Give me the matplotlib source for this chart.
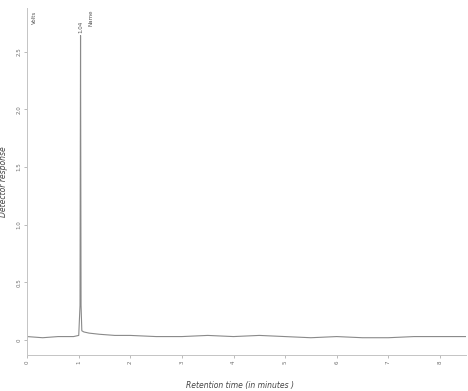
import numpy as np
import matplotlib.pyplot as plt

# retention time (min) and detector response
time_min = [0.0, 0.3, 0.6, 0.9, 1.00, 1.025, 1.035, 1.045, 1.06, 1.10, 1.2, 1.4,
            1.7, 2.0, 2.5, 3.0, 3.5, 4.0, 4.5, 5.0, 5.5, 6.0, 6.5, 7.0, 7.5,
            8.0, 8.5]
response = [0.03, 0.02, 0.03, 0.03, 0.04, 0.3, 2.64, 0.3, 0.08, 0.07, 0.06, 0.05,
            0.04, 0.04, 0.03, 0.03, 0.04, 0.03, 0.04, 0.03, 0.02, 0.03, 0.02, 0.02,
            0.03, 0.03, 0.03]

x_ticks = [0, 1, 2, 3, 4, 5, 6, 7, 8]
y_ticks = [0.0, 0.5, 1.0, 1.5, 2.0, 2.5]
y_tick_labels = ['0', '0.5', '1.0', '1.5', '2.0', '2.5']
peak_time = 1.035
peak_label = '1.04'

grey = '#8a8a8a'
text_grey = '#6e6e6e'

fig = plt.figure(figsize=(4.68, 3.91), dpi=100)
ax = fig.add_axes([0.058, 0.092, 0.937, 0.888])

ax.plot(time_min, response, color=grey, lw=0.8)

ax.set_xlim(0, 8.5)
ax.set_ylim(-0.13, 2.88)

ax.set_xticks(x_ticks)
ax.set_xticklabels([str(t) for t in x_ticks], fontsize=4, color=text_grey, rotation=90)
ax.set_yticks(y_ticks)
ax.set_yticklabels(y_tick_labels, fontsize=4, color=text_grey, rotation=90, va='center')
ax.tick_params(axis='both', length=2, width=0.6, colors='#b0b0b0', labelcolor=text_grey, pad=2)

for side in ['top', 'right']:
    ax.spines[side].set_visible(False)
for side in ['left', 'bottom']:
    ax.spines[side].set_color('#c4c4c4')
    ax.spines[side].set_linewidth(0.7)

ax.set_xlabel('Retention time (in minutes )', fontsize=5.5, style='italic', color='#444444')
ax.set_ylabel('Detector response', fontsize=5.5, style='italic', color='#444444')
ax.xaxis.set_label_coords(0.485, -0.075)
ax.yaxis.set_label_coords(-0.043, 0.5)

# peak retention time label and header labels
ax.text(peak_time, 2.66, peak_label, rotation=90, fontsize=4, color='#555555', ha='center', va='bottom')
fig.text(0.073, 0.955, 'Volts', rotation=90, fontsize=4, color='#555555', ha='center', va='center')
fig.text(0.195, 0.955, 'Name', rotation=90, fontsize=4, color='#555555', ha='center', va='center')

fig.savefig('out.png', dpi=100)
